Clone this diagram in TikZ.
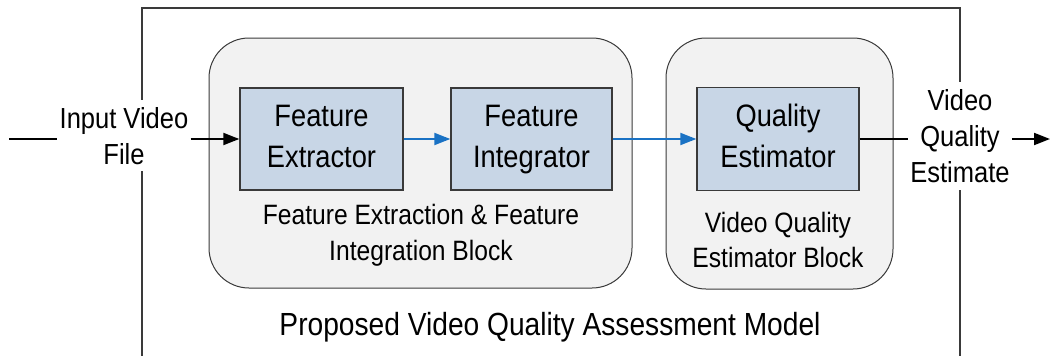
\documentclass[tikz,border=0pt]{standalone}
\usepackage{fontspec}
\setmainfont[FakeStretch=0.88]{Liberation Sans}
\usetikzlibrary{arrows.meta}

\definecolor{unitfill}{HTML}{C8D6E6}
\definecolor{blockfill}{HTML}{F2F2F2}
\definecolor{flowblue}{HTML}{1A72C4}
\definecolor{edgegray}{HTML}{3A3A3A}

% two-line unit label with a fixed line height, so every unit sets its lines alike
\newcommand{\unitlines}[2]{\vphantom{Ql}#1\\#2\vphantom{g}}

\begin{document}
\begin{tikzpicture}[x=1pt,y=-1pt,
  block/.style={draw=edgegray, fill=blockfill, line width=1pt, rounded corners=40pt, inner sep=0pt},
  unit/.style={draw=edgegray, fill=unitfill, line width=1.4pt, inner sep=0pt,
               align=center, font=\fontsize{31}{41}\selectfont},
  caption/.style={align=center, inner sep=0pt, font=\fontsize{28}{35.5}\selectfont},
  io/.style={fill=white, align=center, inner xsep=2pt, inner ysep=7pt,
             font=\fontsize{29}{36}\selectfont},
  flow/.style={draw=flowblue, line width=2pt, -{Triangle[length=16pt,width=12pt]}},
  feed/.style={draw=black, line width=2pt},
  feedarrow/.style={feed, -{Triangle[length=16pt,width=12pt]}}
]
\fill[white] (0,0) rectangle (1050,356);
\useasboundingbox (0,0) rectangle (1050,356);

% model frame, open at the bottom
\draw[edgegray, line width=1.5pt] (142,356) -- (142,8) -- (960,8) -- (960,356);

% processing blocks
\node[block, minimum width=423pt, minimum height=250pt] (extblock) at (420.5,163) {};
\node[block, minimum width=227pt, minimum height=251pt] (estblock) at (779.5,163.5) {};

% units
\node[unit, minimum width=163pt, minimum height=102pt] (fe) at (321.5,139) {\unitlines{Feature}{Extractor}};
\node[unit, minimum width=161pt, minimum height=102pt] (fi) at (531.5,139) {\unitlines{Feature}{Integrator}};
\node[unit, minimum width=162pt, minimum height=103pt] (qe) at (778,139) {\unitlines{Quality}{Estimator}};

% block captions
\node[caption] (extcap) at (421,235.3) {Feature Extraction \& Feature\\Integration Block};
\node[caption] (estcap) at (778,239.8) {Video Quality\\Estimator Block};
\node[anchor=base, inner sep=0pt, font=\fontsize{32}{38}\selectfont] (title) at (550,335)
  {Proposed Video Quality Assessment Model};

% input and output labels
\node[io] (inlbl) at (124,135.8) {Input Video\\File};
\node[io] (outlbl) at (960,136) {Video\\Quality\\Estimate};

\coordinate (src) at (9,139);
\coordinate (sink) at (1050,139);

% connectors
\draw[feed] (src) -- (src -| inlbl.west);
\draw[feedarrow] (inlbl.east |- fe.west) -- (fe.west);
\draw[flow] (fe.east) -- (fi.west);
\draw[flow] (fi.east) -- (qe.west);
\draw[feed] (qe.east) -- (qe.east -| outlbl.west);
\draw[feedarrow] (outlbl.east |- qe.east) -- (sink);
\end{tikzpicture}
\end{document}
